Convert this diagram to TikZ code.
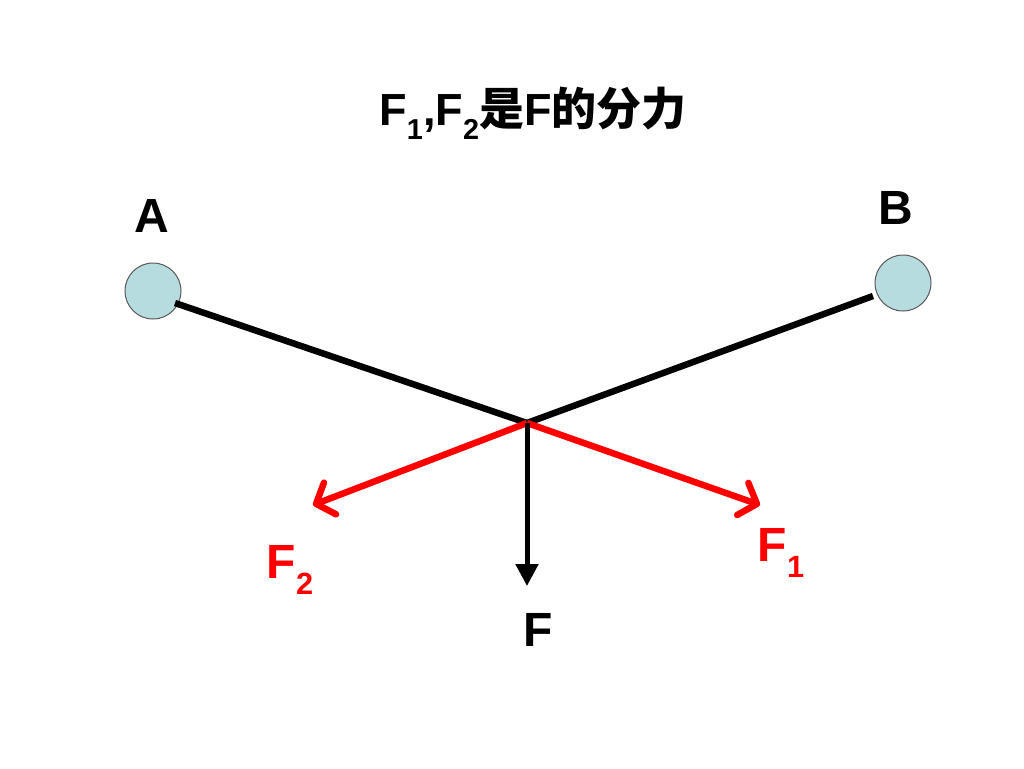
\documentclass[tikz,border=0pt]{standalone}
\usepackage{fontspec}
\setmainfont{Liberation Sans}
\newfontfamily\cjk{Noto Sans CJK SC}
\usetikzlibrary{arrows.meta}
\definecolor{ballblue}{HTML}{B7DCE0}
\definecolor{fred}{HTML}{FF0000}
\newcommand\mysub[1]{\raisebox{-0.32em}{\fontsize{0.64em}{0.7em}\selectfont #1}}
\begin{document}
\begin{tikzpicture}[x=1pt,y=-1pt,
  ball/.style={circle,draw=gray!70!black,line width=1pt,fill=ballblue,minimum size=56pt,inner sep=0pt},
  rod/.style={line width=6.5pt,black},
  redarrow/.style={line width=6.5pt,fred,-{Straight Barb[length=15pt,width=34pt,line width=6.5pt,round]}},
  blackarrow/.style={line width=5pt,black,-{Triangle[length=22pt,width=22pt]}},
  lab/.style={font=\bfseries\fontsize{48}{50}\selectfont,inner sep=0pt},
  redlab/.style={lab,text=fred}]
\useasboundingbox (0,0) rectangle (1024,768);
\node[font=\bfseries\fontsize{45}{47}\selectfont,inner sep=0pt] (title) at (533,113) {F\mysub{1},F\mysub{2}{\cjk\bfseries 是}F{\cjk\bfseries 的分力}};
\node[lab] (la) at (152,216) {A};
\node[lab] (lb) at (896,208) {B};
\node[ball] (A) at (153,291) {};
\node[ball] (B) at (903,283) {};
\coordinate (O) at (527,423);
\coordinate (a1) at (175,303);
\coordinate (b1) at (873,296);
\coordinate (t2) at (313,505);
\coordinate (t1) at (760,505);
\coordinate (tf) at (527,586);
\draw[rod] (a1) -- (O) -- (b1);
\draw[redarrow] (O) -- (t2);
\draw[redarrow] (O) -- (t1);
\draw[blackarrow] (O) -- (tf);
\node[redlab] (F2) at (290,570) {F\mysub{2}};
\node[redlab] (F1) at (781,553) {F\mysub{1}};
\node[lab] (F) at (538,630) {F};
\end{tikzpicture}
\end{document}
